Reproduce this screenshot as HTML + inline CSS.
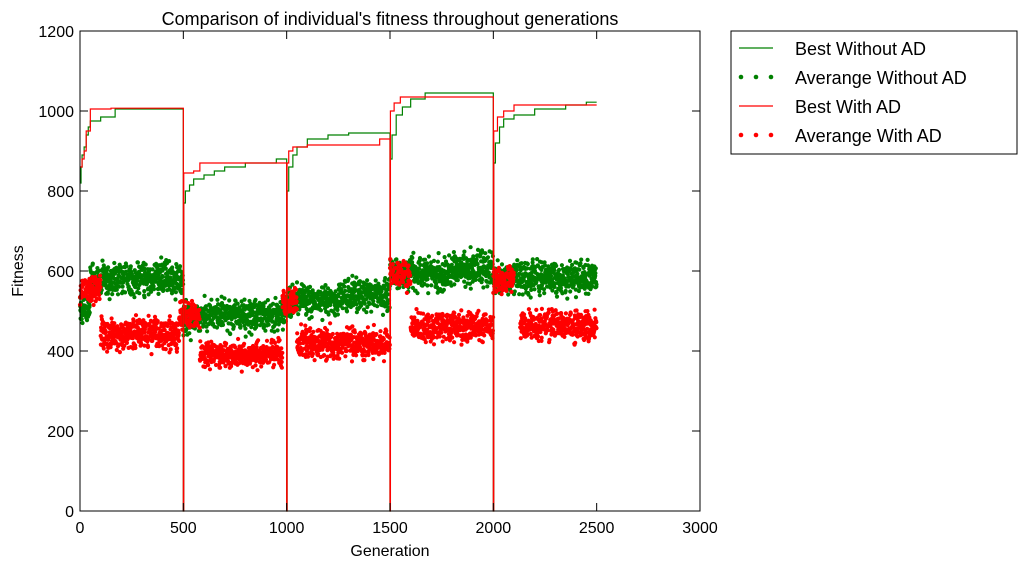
<!DOCTYPE html>
<html><head><meta charset="utf-8"><style>
body{margin:0;background:#fff;}
svg text{font-family:"Liberation Sans","DejaVu Sans",sans-serif;fill:#000;}
</style></head><body>
<svg id="chart" width="1027" height="570" xmlns="http://www.w3.org/2000/svg">
<text x="390" y="25" font-size="18" text-anchor="middle">Comparison of individual's fitness throughout generations</text>
<g id="plot"></g>
<rect x="80" y="31" width="620" height="480" fill="none" stroke="#000" stroke-width="1"/>
<g id="axes"></g>
<text x="390" y="556" font-size="16" text-anchor="middle">Generation</text>
<text x="0" y="0" font-size="16" text-anchor="middle" transform="translate(23,271) rotate(-90)">Fitness</text>
<g>
<rect x="731" y="31" width="286" height="123" fill="#fff" stroke="#000"/>
<g><line x1="739" y1="48" x2="773" y2="48" stroke="#008000" stroke-width="1.2"/><text x="795" y="55" font-size="18">Best Without AD</text></g>
<g><circle cx="741" cy="77" r="2.3" fill="#008000"/><circle cx="756" cy="77" r="2.3" fill="#008000"/><circle cx="771" cy="77" r="2.3" fill="#008000"/><text x="795" y="84" font-size="18">Averange Without AD</text></g>
<g><line x1="739" y1="106" x2="773" y2="106" stroke="#ff0000" stroke-width="1.2"/><text x="795" y="113" font-size="18">Best With AD</text></g>
<g><circle cx="741" cy="135" r="2.3" fill="#ff0000"/><circle cx="756" cy="135" r="2.3" fill="#ff0000"/><circle cx="771" cy="135" r="2.3" fill="#ff0000"/><text x="795" y="142" font-size="18">Averange With AD</text></g>
</g>
</svg>
<script>
const xTicks=[0,500,1000,1500,2000,2500,3000];
const yTicks=[0,200,400,600,800,1000,1200];
// best step series: [generation, fitness]
const bestGreenGen=[0,5,10,20,30,40,50,100,170,499,500,502,510,530,550,600,650,700,800,950,999,1000,1002,1010,1030,1050,1100,1200,1300,1499,1500,1502,1510,1530,1560,1600,1670,1999,2000,2002,2010,2030,2050,2100,2200,2350,2450,2500];
const bestGreenVal=[820,860,890,910,940,960,975,985,1005,1005,0,770,800,815,830,840,850,860,870,880,880,0,800,860,890,910,930,940,945,945,0,880,940,990,1010,1030,1045,1045,0,870,920,960,980,990,1005,1015,1022,1022];
const bestRedGen=[0,10,20,30,50,150,499,500,502,550,580,999,1000,1002,1010,1030,1100,1400,1450,1499,1500,1502,1520,1550,1999,2000,2002,2020,2050,2100,2500];
const bestRedVal=[860,880,900,950,1005,1007,1007,0,845,850,870,870,0,870,900,910,915,915,930,930,0,1000,1020,1035,1035,0,950,985,1000,1015,1015];
// average blocks: start gen, end gen, mean fitness, spread
const avgGreenStart=[0,50,500,580,1000,1250,1500,1800,2000];
const avgGreenEnd=[50,500,580,1000,1250,1500,1800,2000,2500];
const avgGreenMean=[505,580,480,490,525,540,595,605,580];
const avgGreenSpread=[30,30,30,28,30,30,30,30,30];
const avgRedStart=[0,100,480,580,980,1050,1500,1600,2000,2130];
const avgRedEnd=[100,480,580,980,1050,1500,1600,2000,2100,2500];
const avgRedMean=[550,440,490,390,520,420,590,460,580,462];
const avgRedSpread=[25,27,25,25,25,27,25,27,25,27];

const NS="http://www.w3.org/2000/svg";
const X0=80,X1=700,Y0=511,Y1=31;
function xs(g){return X0+(g/3000)*(X1-X0);}
function ys(v){return Y0-(v/1200)*(Y0-Y1);}
const plot=document.getElementById('plot'),axes=document.getElementById('axes');
function jit(i,s){const t=Math.sin(i*12.9898+s*78.233)*43758.5453;return (t-Math.floor(t))*2-1;}
function scatter(st,en,mn,sp,color,name,seed){
  let k=0;
  for(let b=0;b<st.length;b++){
    for(let g=st[b];g<en[b];g++){
      k++;
      const v=mn[b]+sp[b]*(jit(k,seed)+jit(k,seed+7)+jit(k,seed+13))/1.5;
      const c=document.createElementNS(NS,'circle');
      c.setAttribute('cx',xs(g).toFixed(1));c.setAttribute('cy',ys(v).toFixed(1));
      c.setAttribute('r','2.1');c.setAttribute('fill',color);
      
      
      plot.appendChild(c);
    }
  }
}
function step(gs,vs,color,name){
  let d='';
  for(let i=0;i<gs.length;i++){
    if(i===0)d+='M'+xs(gs[0])+','+ys(vs[0]);
    else d+='L'+xs(gs[i])+','+ys(vs[i-1])+'L'+xs(gs[i])+','+ys(vs[i]);
  }
  const p=document.createElementNS(NS,'path');
  p.setAttribute('d',d);p.setAttribute('fill','none');p.setAttribute('stroke',color);p.setAttribute('stroke-width','1.2');
  
  
  plot.appendChild(p);
}
scatter(avgGreenStart,avgGreenEnd,avgGreenMean,avgGreenSpread,'#008000','avg-without-ad-point',1);
scatter(avgRedStart,avgRedEnd,avgRedMean,avgRedSpread,'#ff0000','avg-with-ad-point',2);
step(bestGreenGen,bestGreenVal,'#008000','best-without-ad-line');
step(bestRedGen,bestRedVal,'#ff0000','best-with-ad-line');
function ln(x1,y1,x2,y2){const l=document.createElementNS(NS,'line');l.setAttribute('x1',x1);l.setAttribute('y1',y1);l.setAttribute('x2',x2);l.setAttribute('y2',y2);l.setAttribute('stroke','#000');


axes.appendChild(l);}
function tx(x,y,s,a){const t=document.createElementNS(NS,'text');t.setAttribute('x',x);t.setAttribute('y',y);t.setAttribute('font-size','16');t.setAttribute('text-anchor',a);t.textContent=s;


axes.appendChild(t);}
xTicks.forEach(g=>{const x=xs(g);ln(x,Y0,x,Y0-8);ln(x,Y1,x,Y1+8);tx(x,Y0+22,String(g),'middle');});
yTicks.forEach(v=>{const y=ys(v);ln(X0,y,X0+8,y);ln(X1,y,X1-8,y);tx(X0-6,y+6,String(v),'end');});
</script>
</body></html>
